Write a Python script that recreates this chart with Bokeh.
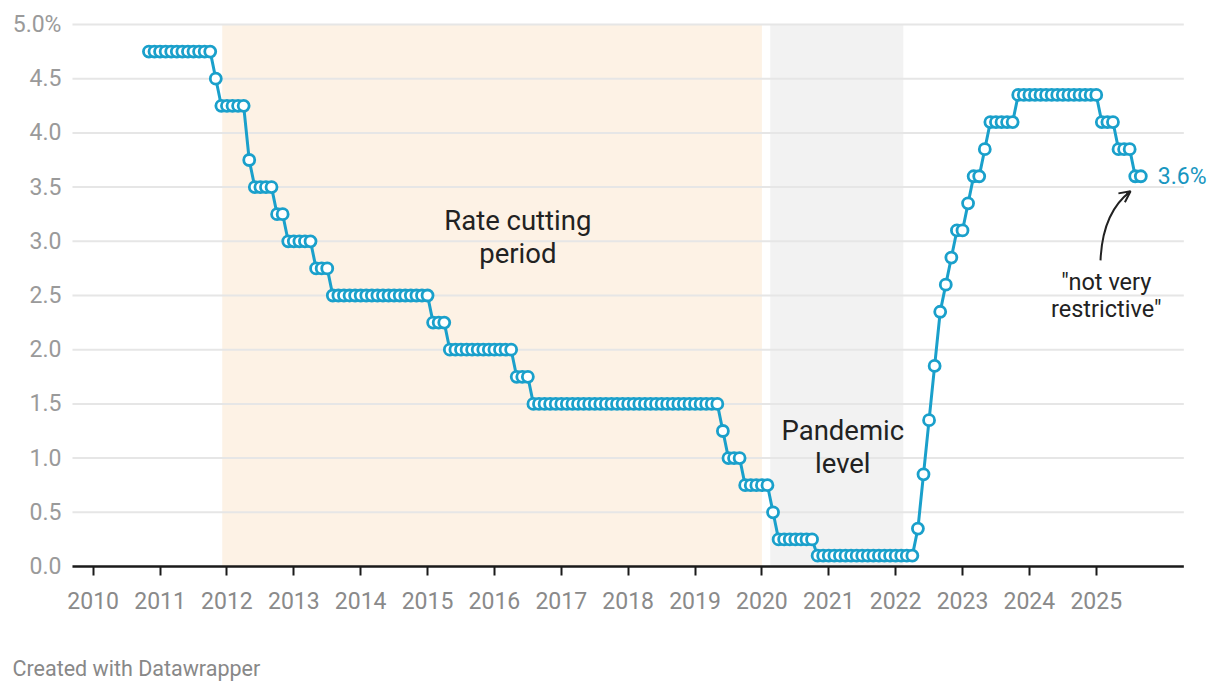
import pandas as pd
from bokeh.plotting import figure
from bokeh.models import BoxAnnotation, Label, FixedTicker, Range1d, Arrow, OpenHead, ColumnDataSource
from bokeh.embed import file_html
from bokeh.resources import INLINE

# Monthly cash rate (%), Nov 2010 .. Sep 2025
first_month = "2010-11"
rates_2010 = [4.75, 4.75]
rates_2011 = [4.75, 4.75, 4.75, 4.75, 4.75, 4.75, 4.75, 4.75, 4.75, 4.75, 4.50, 4.25]
rates_2012 = [4.25, 4.25, 4.25, 4.25, 3.75, 3.50, 3.50, 3.50, 3.50, 3.25, 3.25, 3.00]
rates_2013 = [3.00, 3.00, 3.00, 3.00, 2.75, 2.75, 2.75, 2.50, 2.50, 2.50, 2.50, 2.50]
rates_2014 = [2.50, 2.50, 2.50, 2.50, 2.50, 2.50, 2.50, 2.50, 2.50, 2.50, 2.50, 2.50]
rates_2015 = [2.50, 2.25, 2.25, 2.25, 2.00, 2.00, 2.00, 2.00, 2.00, 2.00, 2.00, 2.00]
rates_2016 = [2.00, 2.00, 2.00, 2.00, 1.75, 1.75, 1.75, 1.50, 1.50, 1.50, 1.50, 1.50]
rates_2017 = [1.50, 1.50, 1.50, 1.50, 1.50, 1.50, 1.50, 1.50, 1.50, 1.50, 1.50, 1.50]
rates_2018 = [1.50, 1.50, 1.50, 1.50, 1.50, 1.50, 1.50, 1.50, 1.50, 1.50, 1.50, 1.50]
rates_2019 = [1.50, 1.50, 1.50, 1.50, 1.50, 1.25, 1.00, 1.00, 1.00, 0.75, 0.75, 0.75]
rates_2020 = [0.75, 0.75, 0.50, 0.25, 0.25, 0.25, 0.25, 0.25, 0.25, 0.25, 0.10, 0.10]
rates_2021 = [0.10, 0.10, 0.10, 0.10, 0.10, 0.10, 0.10, 0.10, 0.10, 0.10, 0.10, 0.10]
rates_2022 = [0.10, 0.10, 0.10, 0.10, 0.35, 0.85, 1.35, 1.85, 2.35, 2.60, 2.85, 3.10]
rates_2023 = [3.10, 3.35, 3.60, 3.60, 3.85, 4.10, 4.10, 4.10, 4.10, 4.10, 4.35, 4.35]
rates_2024 = [4.35, 4.35, 4.35, 4.35, 4.35, 4.35, 4.35, 4.35, 4.35, 4.35, 4.35, 4.35]
rates_2025 = [4.35, 4.10, 4.10, 4.10, 3.85, 3.85, 3.85, 3.60, 3.60]

rates = (rates_2010 + rates_2011 + rates_2012 + rates_2013 + rates_2014 + rates_2015 +
         rates_2016 + rates_2017 + rates_2018 + rates_2019 + rates_2020 + rates_2021 +
         rates_2022 + rates_2023 + rates_2024 + rates_2025)

year_ticks = list(range(2010, 2026))
y_ticks = [0.0, 0.5, 1.0, 1.5, 2.0, 2.5, 3.0, 3.5, 4.0, 4.5, 5.0]
y_tick_labels = ["0.0", "0.5", "1.0", "1.5", "2.0", "2.5", "3.0", "3.5", "4.0", "4.5", "5.0%"]

# chart x extent (decimal years) and shaded periods
x_axis_extent = (2009.69, 2026.31)
cutting_period = (2011.93, 2020.0)
pandemic_period = (2020.125, 2022.115)

months = pd.period_range(first_month, periods=len(rates), freq="M")
xs = [m.year + (m.month - 1) / 12 for m in months]
src = ColumnDataSource(dict(x=xs, y=rates))

BLUE = "#1aa0cb"
FONT = "Roboto"

# The frame covers the whole canvas; axes are placed at fixed locations inside it.
p = figure(width=1212, height=684, output_backend="svg", toolbar_location=None,
           x_range=Range1d(2008.6137, 2026.7386), y_range=Range1d(-1.0886, 5.2214),
           min_border_left=0, min_border_right=0, min_border_top=0, min_border_bottom=0)
p.outline_line_color = None
p.background_fill_color = "white"
p.border_fill_color = "white"

# shading below everything
p.add_layout(BoxAnnotation(left=cutting_period[0], right=cutting_period[1], bottom=0, top=5,
                           fill_color="#fdf2e5", fill_alpha=1, line_color=None, level="image"))
p.add_layout(BoxAnnotation(left=pandemic_period[0], right=pandemic_period[1], bottom=0, top=5,
                           fill_color="#f2f2f2", fill_alpha=1, line_color=None, level="image"))

p.xgrid.visible = False
p.ygrid.visible = False

# grid lines limited to the chart extent
grid_vals = y_ticks[1:]
p.segment(x0=[x_axis_extent[0]] * len(grid_vals), x1=[x_axis_extent[1]] * len(grid_vals),
          y0=grid_vals, y1=grid_vals, line_color="#e6e6e6", line_width=2)

# axes
p.yaxis.fixed_location = x_axis_extent[0]
p.yaxis.ticker = FixedTicker(ticks=y_ticks)
p.yaxis.major_label_overrides = {t: l for t, l in zip(y_ticks, y_tick_labels)}
p.yaxis.axis_line_color = None
p.yaxis.major_tick_line_color = None
p.yaxis.major_tick_in = 0
p.yaxis.major_tick_out = 0
p.yaxis.minor_tick_line_color = None
p.yaxis.major_label_standoff = 11
p.yaxis.major_label_text_font = FONT
p.yaxis.major_label_text_font_size = "23px"
p.yaxis.major_label_text_color = "#9a9a9a"

p.xaxis.fixed_location = 0
p.xaxis.ticker = FixedTicker(ticks=year_ticks)
p.xaxis.major_label_overrides = {t: str(t) for t in year_ticks}
p.xaxis.axis_line_color = None
p.xaxis.major_tick_line_color = "#1a1a1a"
p.xaxis.major_tick_line_width = 2
p.xaxis.major_tick_in = 0
p.xaxis.major_tick_out = 9
p.xaxis.minor_tick_line_color = None
p.xaxis.major_label_standoff = 17
p.xaxis.major_label_text_font = FONT
p.xaxis.major_label_text_font_size = "23px"
p.xaxis.major_label_text_color = "#8a8a8a"

# baseline
p.segment(x0=[x_axis_extent[0]], x1=[x_axis_extent[1]], y0=[0], y1=[0],
          line_color="#1a1a1a", line_width=2.5)

# data
p.line("x", "y", source=src, line_color=BLUE, line_width=3)
p.scatter("x", "y", source=src, size=11, fill_color="white", line_color=BLUE, line_width=2.8)

# end label
p.add_layout(Label(x=xs[-1], y=rates[-1], text=f"{rates[-1]:.1f}%", x_offset=17,
                   text_baseline="middle", text_align="left", text_font=FONT,
                   text_font_size="23px", text_color="#1896c0"))

# annotations
def add_text(x, y, t, size="27.5px", align="center", color="#222222", baseline="alphabetic"):
    p.add_layout(Label(x=x, y=y, text=t, text_align=align, text_baseline=baseline,
                       text_font=FONT, text_font_size=size, text_color=color))

add_text(2016.35, 3.192, "Rate cutting")
add_text(2016.35, 2.892, "period")
add_text(2021.21, 1.252, "Pandemic")
add_text(2021.21, 0.947, "level")
add_text(2025.15, 2.622, "\"not very", "23.5px")
add_text(2025.15, 2.373, "restrictive\"", "23.5px")

# curved arrow
p.quadratic(x0=[2025.064], y0=[2.824], x1=[2025.513], y1=[3.461], cx=[2025.094], cy=[3.268],
            line_color="#222222", line_width=2)
p.add_layout(Arrow(x_start=2025.453, y_start=3.434, x_end=2025.513, y_end=3.461,
                   line_color="#222222", line_width=2,
                   end=OpenHead(size=11, line_color="#222222", line_width=2)))

# footer
add_text(2008.793, -0.941, "Created with Datawrapper", "21.5px", "left", "#888888", "middle")

open("out.html", "w").write(file_html(p, INLINE))
